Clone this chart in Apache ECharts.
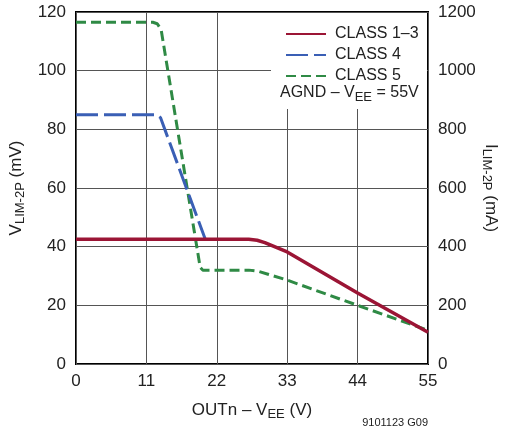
<!DOCTYPE html>
<html>
<head>
<meta charset="utf-8">
<script src="https://cdn.jsdelivr.net/npm/echarts@6/dist/echarts.min.js"></script>
<style>
  html, body { margin: 0; padding: 0; background: #fff; }
  #chart { width: 506px; height: 434px; }
</style>
</head>
<body>
<div id="chart"></div>
<script>
const xTicks = [0, 11, 22, 33, 44, 55];

const class13X = [0, 27, 28.3, 29.5, 33, 44, 55];
const class13Y = [42.5, 42.5, 42.2, 41.4, 38.2, 24.2, 10.8];

const class4X = [0, 12.6, 13.2, 20.2];
const class4Y = [85, 85, 84, 42.5];

const class5X = [0, 12, 12.7, 13.3, 19.4, 19.8, 27, 28.5, 30, 33, 44, 55];
const class5Y = [116.5, 116.5, 116, 114, 33, 32, 32, 31.6, 30.6, 28.6, 20, 11.5];

const FONT = '"Liberation Sans", Arial, sans-serif';
const TXT = '#222';
const FS = 17;
const LEG_FS = 16;

function pairs(xs, ys) {
  return xs.map((x, i) => [x, ys[i]]);
}

const chart = echarts.init(document.getElementById('chart'));

const subRich = {
  sub: { fontSize: 13, verticalAlign: 'bottom', padding: [8, 0, 0, 0], color: TXT, fontFamily: FONT }
};

chart.setOption({
  animation: false,
  backgroundColor: '#fff',
  textStyle: { fontFamily: FONT, color: TXT },
  grid: {
    left: 76, right: 78, top: 12, bottom: 70,
    outerBoundsMode: 'none',
    containLabel: false,
    show: true, borderColor: '#000', borderWidth: 2
  },
  xAxis: {
    type: 'value', min: 0, max: 55, interval: 11,
    axisLine: { show: false },
    axisTick: { show: false },
    splitLine: { lineStyle: { color: '#555', width: 1 } },
    axisLabel: { fontSize: FS, color: TXT, margin: 9, formatter: v => xTicks.includes(v) ? String(v) : '' },
    name: 'OUTn – V{sub|EE} (V)',
    nameLocation: 'middle',
    nameGap: 36,
    nameTextStyle: { fontSize: FS, color: TXT, rich: subRich }
  },
  yAxis: [
    {
      type: 'value', min: 0, max: 120, interval: 20,
      axisLine: { show: false },
      axisTick: { show: false },
      splitLine: { lineStyle: { color: '#555', width: 1 } },
      axisLabel: { fontSize: FS, color: TXT, margin: 10 },
      name: 'V{sub|LIM-2P} (mV)',
      nameLocation: 'middle',
      nameRotate: 90,
      nameGap: 47,
      nameTextStyle: { fontSize: FS, color: TXT, rich: subRich }
    },
    {
      type: 'value', min: 0, max: 1200, interval: 200,
      position: 'right',
      axisLine: { show: false },
      axisTick: { show: false },
      splitLine: { show: false },
      axisLabel: { fontSize: FS, color: TXT, margin: 10, formatter: v => String(v) },
      name: 'I{sub|LIM-2P} (mA)',
      nameLocation: 'middle',
      nameRotate: -90,
      nameGap: 52,
      nameMoveOverlap: false,
      nameTextStyle: { fontSize: FS, color: TXT, rich: subRich }
    }
  ],
  legend: {
    left: 280, top: 19, orient: 'vertical',
    itemWidth: 40, itemHeight: 12, itemGap: 1,
    itemStyle: { opacity: 0 },
    textStyle: { fontSize: LEG_FS, color: TXT, lineHeight: 20, padding: [0, 0, 0, 4] },
    data: ['CLASS 1–3', 'CLASS 4', 'CLASS 5'],
    z: 20
  },
  graphic: [
    {
      type: 'rect', left: 271, top: 13, z: 10,
      shape: { width: 156, height: 96 },
      style: { fill: '#fff' }
    },
    {
      type: 'text', left: 280, top: 85, z: 20,
      style: {
        text: 'AGND – V{sub|EE} = 55V',
        fontSize: LEG_FS, fontFamily: FONT, fill: TXT,
        rich: subRich
      }
    },
    {
      type: 'text', right: 78, top: 417, z: 20,
      style: { text: '9101123 G09', fontSize: 11, fontFamily: FONT, fill: TXT }
    }
  ],
  series: [
    {
      name: 'CLASS 5', type: 'line', symbol: 'none', z: 3,
      data: pairs(class5X, class5Y),
      lineStyle: { color: '#2f8a45', width: 3, type: [10, 5] },
      itemStyle: { color: '#2f8a45' }
    },
    {
      name: 'CLASS 4', type: 'line', symbol: 'none', z: 4,
      data: pairs(class4X, class4Y),
      lineStyle: { color: '#3a5fb5', width: 3, type: [22, 6] },
      itemStyle: { color: '#3a5fb5' }
    },
    {
      name: 'CLASS 1–3', type: 'line', symbol: 'none', z: 5,
      data: pairs(class13X, class13Y),
      lineStyle: { color: '#9b1535', width: 3.5 },
      itemStyle: { color: '#9b1535' }
    }
  ]
});
</script>
</body>
</html>
